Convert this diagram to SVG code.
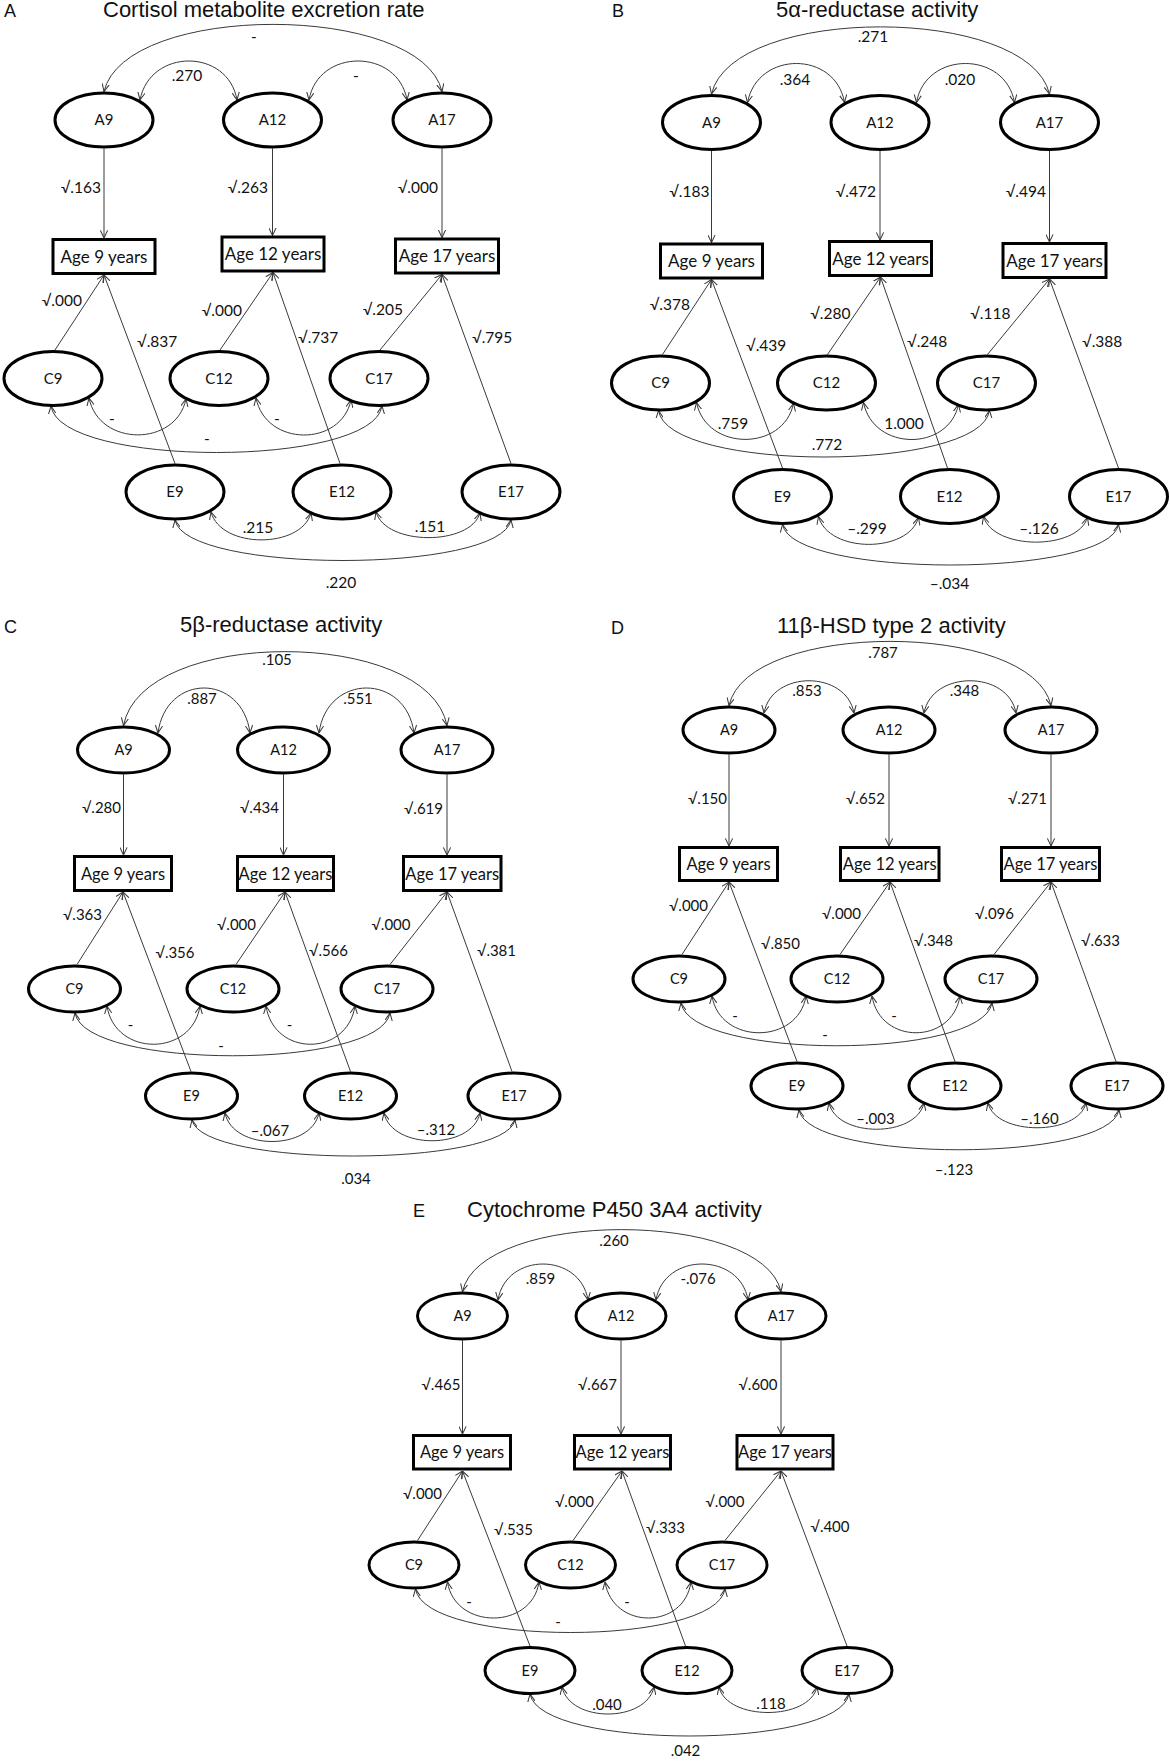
<svg xmlns="http://www.w3.org/2000/svg" width="1170" height="1763" viewBox="0 0 1170 1763">
<defs>
<style>
.ell{fill:#fff;stroke:#000;stroke-width:3}
.box{fill:#fff;stroke:#000;stroke-width:3}
.cn{fill:none;stroke:#3a3a3a;stroke-width:1}
.one{marker-end:url(#ah)}
.two{marker-start:url(#ah);marker-end:url(#ah)}
.nl{font-family:Lato,"Liberation Sans",sans-serif;font-size:15px;text-anchor:middle;fill:#111}
.bl{font-family:Lato,"Liberation Sans",sans-serif;font-size:17px;text-anchor:middle;fill:#111}
.lb{font-family:Lato,"Liberation Sans",sans-serif;font-size:15.5px;fill:#111}
.sm .nl{font-size:14.5px}
.sm .bl{font-size:16.5px}
.sm .lb{font-size:15px}
.m{text-anchor:middle}
.e{text-anchor:end}
.ttl{font-family:"Liberation Sans",Arial,sans-serif;font-size:22px;fill:#111}
.pl{font-family:"Liberation Sans",Arial,sans-serif;font-size:18px;fill:#111}
</style>
<marker id="ah" viewBox="0 0 10 10" refX="9.5" refY="5" markerWidth="8" markerHeight="8" markerUnits="userSpaceOnUse" orient="auto-start-reverse">
<path d="M0,0.5 L9.5,5 L0,9.5" fill="none" stroke="#3a3a3a" stroke-width="1.3"/>
</marker>
</defs>
<rect width="1170" height="1763" fill="#fff"/>

<!-- ================= PANEL A ================= -->
<g id="panel-A">
<text class="pl" x="4" y="17">A</text>
<text class="ttl" x="103" y="17">Cortisol metabolite excretion rate</text>
<g id="A-connectors">
<path class="cn one" d="M104,148.5 V238"/>
<path class="cn one" d="M272.5,148.5 V235.5"/>
<path class="cn one" d="M442,148.5 V237.5"/>
<path class="cn one" d="M55,350 L104,275"/>
<path class="cn one" d="M175,463.5 L104,275"/>
<path class="cn one" d="M220,350 L273,272.5"/>
<path class="cn one" d="M340,463.5 L273,272.5"/>
<path class="cn one" d="M380,350 L442,274.5"/>
<path class="cn one" d="M511,463.5 L442,274.5"/>
<path class="cn two" d="M104,91.5 C125,2 421,2 442,91.5"/>
<path class="cn two" d="M140,100 C150,48 228,48 237,100"/>
<path class="cn two" d="M309,100 C318,48 398,48 407,100"/>
<path class="cn two" d="M89,398 C99,447 176,447 186,399"/>
<path class="cn two" d="M256,398 C266,447 341,447 351,400"/>
<path class="cn two" d="M51,406 C60,468 373,468 382,406"/>
<path class="cn two" d="M211,512 C221,549 301,549 311,513"/>
<path class="cn two" d="M376,512 C386,546 470,546 480,513"/>
<path class="cn two" d="M175,520 C185,574 501,574 511,520"/>
</g>
<g id="A-labels">
<text class="lb m" x="254" y="41.5">-</text>
<text class="lb m" x="187" y="81">.270</text>
<text class="lb m" x="356" y="81">-</text>
<text class="lb e" x="101" y="193">√.163</text>
<text class="lb e" x="268" y="193">√.263</text>
<text class="lb e" x="438" y="193">√.000</text>
<text class="lb e" x="82" y="306">√.000</text>
<text class="lb" x="137" y="347">√.837</text>
<text class="lb e" x="242" y="316">√.000</text>
<text class="lb" x="298" y="343">√.737</text>
<text class="lb e" x="403" y="315">√.205</text>
<text class="lb" x="472" y="343">√.795</text>
<text class="lb m" x="112" y="424">-</text>
<text class="lb m" x="277" y="424">-</text>
<text class="lb m" x="207" y="444">-</text>
<text class="lb m" x="258" y="533">.215</text>
<text class="lb m" x="430" y="532">.151</text>
<text class="lb m" x="341" y="588">.220</text>
</g>
<g id="A-A9"><ellipse class="ell" cx="104" cy="120" rx="49" ry="27"/><text class="nl" x="104" y="125">A9</text></g>
<g id="A-A12"><ellipse class="ell" cx="272.5" cy="120" rx="49" ry="27"/><text class="nl" x="272.5" y="125">A12</text></g>
<g id="A-A17"><ellipse class="ell" cx="442" cy="120" rx="49" ry="27"/><text class="nl" x="442" y="125">A17</text></g>
<g id="A-Age9"><rect class="box" x="53" y="239.5" width="102" height="34"/><text class="bl" x="104" y="262.5">Age 9 years</text></g>
<g id="A-Age12"><rect class="box" x="222" y="237" width="102" height="34"/><text class="bl" x="273" y="260">Age 12 years</text></g>
<g id="A-Age17"><rect class="box" x="395.5" y="239" width="103" height="34"/><text class="bl" x="447" y="262">Age 17 years</text></g>
<g id="A-C9"><ellipse class="ell" cx="53" cy="378.5" rx="49" ry="27"/><text class="nl" x="53" y="383.5">C9</text></g>
<g id="A-C12"><ellipse class="ell" cx="219" cy="378.5" rx="49" ry="27"/><text class="nl" x="219" y="383.5">C12</text></g>
<g id="A-C17"><ellipse class="ell" cx="379" cy="378.5" rx="49" ry="27"/><text class="nl" x="379" y="383.5">C17</text></g>
<g id="A-E9"><ellipse class="ell" cx="175" cy="492" rx="49" ry="27"/><text class="nl" x="175" y="497">E9</text></g>
<g id="A-E12"><ellipse class="ell" cx="342" cy="492" rx="49" ry="27"/><text class="nl" x="342" y="497">E12</text></g>
<g id="A-E17"><ellipse class="ell" cx="511" cy="492" rx="49" ry="27"/><text class="nl" x="511" y="497">E17</text></g>
</g>

<!-- ================= PANEL B ================= -->
<g id="panel-B">
<text class="pl" x="612" y="17">B</text>
<text class="ttl" x="776" y="17">5α-reductase activity</text>
<g transform="translate(607.5,4.5)">
<g id="B-connectors">
<path class="cn one" d="M104,146.5 V238"/>
<path class="cn one" d="M272.5,146.5 V235.5"/>
<path class="cn one" d="M442,146.5 V237.5"/>
<path class="cn one" d="M55,350 L104,275"/>
<path class="cn one" d="M175,463.5 L104,275"/>
<path class="cn one" d="M220,350 L273,272.5"/>
<path class="cn one" d="M340,463.5 L273,272.5"/>
<path class="cn one" d="M380,350 L442,274.5"/>
<path class="cn one" d="M511,463.5 L442,274.5"/>
<path class="cn two" d="M104,89.5 C125,0 421,0 442,89.5"/>
<path class="cn two" d="M140,98 C150,46 228,46 237,98"/>
<path class="cn two" d="M309,98 C318,46 398,46 407,98"/>
<path class="cn two" d="M89,398 C99,447 176,447 186,399"/>
<path class="cn two" d="M256,398 C266,447 341,447 351,400"/>
<path class="cn two" d="M51,406 C60,468 373,468 382,406"/>
<path class="cn two" d="M211,512 C221,549 301,549 311,513"/>
<path class="cn two" d="M376,512 C386,546 470,546 480,513"/>
<path class="cn two" d="M175,520 C185,574 501,574 511,520"/>
</g>
<g id="B-labels">
<text class="lb m" x="265.5" y="37.5">.271</text>
<text class="lb m" x="187.5" y="80.5">.364</text>
<text class="lb m" x="352.5" y="80.5">.020</text>
<text class="lb e" x="102" y="192.5">√.183</text>
<text class="lb e" x="268.5" y="192.5">√.472</text>
<text class="lb e" x="438.5" y="192.5">√.494</text>
<text class="lb e" x="82.5" y="305.5">√.378</text>
<text class="lb" x="138.5" y="346.5">√.439</text>
<text class="lb e" x="243" y="314">√.280</text>
<text class="lb" x="299.5" y="342.5">√.248</text>
<text class="lb e" x="403" y="314.5">√.118</text>
<text class="lb" x="474.5" y="342.5">√.388</text>
<text class="lb m" x="125.5" y="424">.759</text>
<text class="lb m" x="296.5" y="424">1.000</text>
<text class="lb m" x="219.5" y="445">.772</text>
<text class="lb m" x="259.5" y="529.5">–.299</text>
<text class="lb m" x="431.5" y="529.5">–.126</text>
<text class="lb m" x="342" y="584.5">–.034</text>
</g>
<g id="B-A9"><ellipse class="ell" cx="104" cy="118" rx="49" ry="27"/><text class="nl" x="104" y="123">A9</text></g>
<g id="B-A12"><ellipse class="ell" cx="272.5" cy="118" rx="49" ry="27"/><text class="nl" x="272.5" y="123">A12</text></g>
<g id="B-A17"><ellipse class="ell" cx="442" cy="118" rx="49" ry="27"/><text class="nl" x="442" y="123">A17</text></g>
<g id="B-Age9"><rect class="box" x="53" y="239.5" width="102" height="34"/><text class="bl" x="104" y="262.5">Age 9 years</text></g>
<g id="B-Age12"><rect class="box" x="222" y="237" width="102" height="34"/><text class="bl" x="273" y="260">Age 12 years</text></g>
<g id="B-Age17"><rect class="box" x="395.5" y="239" width="103" height="34"/><text class="bl" x="447" y="262">Age 17 years</text></g>
<g id="B-C9"><ellipse class="ell" cx="53" cy="378.5" rx="49" ry="27"/><text class="nl" x="53" y="383.5">C9</text></g>
<g id="B-C12"><ellipse class="ell" cx="219" cy="378.5" rx="49" ry="27"/><text class="nl" x="219" y="383.5">C12</text></g>
<g id="B-C17"><ellipse class="ell" cx="379" cy="378.5" rx="49" ry="27"/><text class="nl" x="379" y="383.5">C17</text></g>
<g id="B-E9"><ellipse class="ell" cx="175" cy="492" rx="49" ry="27"/><text class="nl" x="175" y="497">E9</text></g>
<g id="B-E12"><ellipse class="ell" cx="342" cy="492" rx="49" ry="27"/><text class="nl" x="342" y="497">E12</text></g>
<g id="B-E17"><ellipse class="ell" cx="511" cy="492" rx="49" ry="27"/><text class="nl" x="511" y="497">E17</text></g>
</g>
</g>

<!-- ================= PANEL C ================= -->
<g id="panel-C" class="sm">
<text class="pl" x="4" y="633">C</text>
<text class="ttl" x="180" y="632">5β-reductase activity</text>
<g id="C-connectors">
<path class="cn one" d="M123.5,774.5 V855"/>
<path class="cn one" d="M283.5,774.5 V855"/>
<path class="cn one" d="M447,774.5 V855"/>
<path class="cn one" d="M77,964.5 L123,892"/>
<path class="cn one" d="M191,1071.5 L123,892"/>
<path class="cn one" d="M236,964.5 L285,892"/>
<path class="cn one" d="M350.5,1071.5 L285,892"/>
<path class="cn one" d="M390,964.5 L447,892"/>
<path class="cn one" d="M512,1071.5 L447,892"/>
<path class="cn two" d="M123.5,725.5 C142,627 428,627 447,725.5"/>
<path class="cn two" d="M158,733 C166,673 242,673 250,733"/>
<path class="cn two" d="M319,733 C327,673 406,673 414,733"/>
<path class="cn two" d="M107,1006 C115,1057 192,1057 200,1006"/>
<path class="cn two" d="M266,1006 C274,1057 347,1057 355,1006"/>
<path class="cn two" d="M75,1013 C85,1070 380,1070 390,1013"/>
<path class="cn two" d="M225,1113 C233,1151 311,1151 319,1113"/>
<path class="cn two" d="M384,1113 C392,1150 472,1150 480,1113"/>
<path class="cn two" d="M192,1120 C202,1168 505,1168 515,1120"/>
</g>
<g id="C-labels">
<text class="lb m" x="277" y="665">.105</text>
<text class="lb m" x="202" y="704">.887</text>
<text class="lb m" x="358" y="704">.551</text>
<text class="lb e" x="121" y="813">√.280</text>
<text class="lb e" x="279" y="813">√.434</text>
<text class="lb e" x="443" y="814">√.619</text>
<text class="lb e" x="102" y="920">√.363</text>
<text class="lb" x="155.5" y="958">√.356</text>
<text class="lb e" x="256" y="930">√.000</text>
<text class="lb" x="309" y="955.5">√.566</text>
<text class="lb e" x="410.5" y="930">√.000</text>
<text class="lb" x="477" y="955.5">√.381</text>
<text class="lb m" x="130.5" y="1030">-</text>
<text class="lb m" x="289.5" y="1030">-</text>
<text class="lb m" x="221" y="1051">-</text>
<text class="lb m" x="270" y="1136">–.067</text>
<text class="lb m" x="436" y="1135">–.312</text>
<text class="lb m" x="356" y="1184">.034</text>
</g>
<g id="C-A9"><ellipse class="ell" cx="123.5" cy="750" rx="46" ry="23"/><text class="nl" x="123.5" y="755">A9</text></g>
<g id="C-A12"><ellipse class="ell" cx="283.5" cy="750" rx="46" ry="23"/><text class="nl" x="283.5" y="755">A12</text></g>
<g id="C-A17"><ellipse class="ell" cx="447" cy="750" rx="46" ry="23"/><text class="nl" x="447" y="755">A17</text></g>
<g id="C-Age9"><rect class="box" x="74.5" y="856.5" width="97" height="34"/><text class="bl" x="123" y="879.5">Age 9 years</text></g>
<g id="C-Age12"><rect class="box" x="237.5" y="856.5" width="96" height="34"/><text class="bl" x="285.5" y="879.5">Age 12 years</text></g>
<g id="C-Age17"><rect class="box" x="403.5" y="856.5" width="97.5" height="34"/><text class="bl" x="452.25" y="879.5">Age 17 years</text></g>
<g id="C-C9"><ellipse class="ell" cx="74.5" cy="989" rx="46" ry="23"/><text class="nl" x="74.5" y="994">C9</text></g>
<g id="C-C12"><ellipse class="ell" cx="233" cy="989" rx="46" ry="23"/><text class="nl" x="233" y="994">C12</text></g>
<g id="C-C17"><ellipse class="ell" cx="387" cy="989" rx="46" ry="23"/><text class="nl" x="387" y="994">C17</text></g>
<g id="C-E9"><ellipse class="ell" cx="191.5" cy="1096" rx="46" ry="23"/><text class="nl" x="191.5" y="1101">E9</text></g>
<g id="C-E12"><ellipse class="ell" cx="350.5" cy="1096" rx="46" ry="23"/><text class="nl" x="350.5" y="1101">E12</text></g>
<g id="C-E17"><ellipse class="ell" cx="514" cy="1096" rx="46" ry="23"/><text class="nl" x="514" y="1101">E17</text></g>
</g>

<!-- ================= PANEL D ================= -->
<g id="panel-D" class="sm">
<text class="pl" x="611" y="634">D</text>
<text class="ttl" x="777" y="633">11β-HSD type 2 activity</text>
<g id="D-connectors">
<path class="cn one" d="M729,754.5 V846"/>
<path class="cn one" d="M889,754.5 V846"/>
<path class="cn one" d="M1051,754.5 V846"/>
<path class="cn one" d="M682,954.5 L729,882"/>
<path class="cn one" d="M797,1061.5 L729,882"/>
<path class="cn one" d="M840,954.5 L890,882"/>
<path class="cn one" d="M955,1061.5 L890,882"/>
<path class="cn one" d="M994,954.5 L1051,882"/>
<path class="cn one" d="M1116,1061.5 L1051,882"/>
<path class="cn two" d="M729,705.5 C748,620 1032,620 1051,705.5"/>
<path class="cn two" d="M764,713 C772,670 846,670 854,713"/>
<path class="cn two" d="M924,713 C932,670 1008,670 1016,713"/>
<path class="cn two" d="M712,996 C720,1045 798,1045 806,996"/>
<path class="cn two" d="M872,996 C880,1045 952,1045 960,996"/>
<path class="cn two" d="M681,1003 C691,1060 982,1060 992,1003"/>
<path class="cn two" d="M829,1103 C837,1138 916,1138 924,1103"/>
<path class="cn two" d="M988,1103 C996,1136 1078,1136 1086,1103"/>
<path class="cn two" d="M799,1110 C809,1163 1109,1163 1119,1110"/>
</g>
<g id="D-labels">
<text class="lb m" x="883" y="658">.787</text>
<text class="lb m" x="807" y="696">.853</text>
<text class="lb m" x="964.5" y="696">.348</text>
<text class="lb e" x="727" y="804">√.150</text>
<text class="lb e" x="885" y="804">√.652</text>
<text class="lb e" x="1047" y="804">√.271</text>
<text class="lb e" x="708" y="911">√.000</text>
<text class="lb" x="761" y="949">√.850</text>
<text class="lb e" x="861" y="919">√.000</text>
<text class="lb" x="914" y="946">√.348</text>
<text class="lb e" x="1014" y="919">√.096</text>
<text class="lb" x="1081" y="946">√.633</text>
<text class="lb m" x="735" y="1021">-</text>
<text class="lb m" x="894" y="1021">-</text>
<text class="lb m" x="825" y="1040">-</text>
<text class="lb m" x="875.5" y="1124">–.003</text>
<text class="lb m" x="1039.5" y="1123.5">–.160</text>
<text class="lb m" x="954" y="1175">–.123</text>
</g>
<g id="D-A9"><ellipse class="ell" cx="729" cy="730" rx="46" ry="23"/><text class="nl" x="729" y="735">A9</text></g>
<g id="D-A12"><ellipse class="ell" cx="889" cy="730" rx="46" ry="23"/><text class="nl" x="889" y="735">A12</text></g>
<g id="D-A17"><ellipse class="ell" cx="1051" cy="730" rx="46" ry="23"/><text class="nl" x="1051" y="735">A17</text></g>
<g id="D-Age9"><rect class="box" x="679.5" y="847.5" width="98" height="33"/><text class="bl" x="728.5" y="870">Age 9 years</text></g>
<g id="D-Age12"><rect class="box" x="840.5" y="847.5" width="98.5" height="33"/><text class="bl" x="889.75" y="870">Age 12 years</text></g>
<g id="D-Age17"><rect class="box" x="1001.5" y="847.5" width="98" height="33"/><text class="bl" x="1050.5" y="870">Age 17 years</text></g>
<g id="D-C9"><ellipse class="ell" cx="679" cy="979" rx="46" ry="23"/><text class="nl" x="679" y="984">C9</text></g>
<g id="D-C12"><ellipse class="ell" cx="837" cy="979" rx="46" ry="23"/><text class="nl" x="837" y="984">C12</text></g>
<g id="D-C17"><ellipse class="ell" cx="991" cy="979" rx="46" ry="23"/><text class="nl" x="991" y="984">C17</text></g>
<g id="D-E9"><ellipse class="ell" cx="797" cy="1086" rx="46" ry="23"/><text class="nl" x="797" y="1091">E9</text></g>
<g id="D-E12"><ellipse class="ell" cx="955" cy="1086" rx="46" ry="23"/><text class="nl" x="955" y="1091">E12</text></g>
<g id="D-E17"><ellipse class="ell" cx="1117" cy="1086" rx="46" ry="23"/><text class="nl" x="1117" y="1091">E17</text></g>
</g>

<!-- ================= PANEL E ================= -->
<g id="panel-E" class="sm">
<text class="pl" x="413" y="1217">E</text>
<text class="ttl" x="467" y="1217">Cytochrome P450 3A4 activity</text>
<g id="E-connectors">
<path class="cn one" d="M462.5,1340.5 V1434"/>
<path class="cn one" d="M621,1340.5 V1434"/>
<path class="cn one" d="M781,1340.5 V1434"/>
<path class="cn one" d="M417.5,1540.5 L462.5,1471"/>
<path class="cn one" d="M530,1646 L462.5,1471"/>
<path class="cn one" d="M573,1540.5 L622,1471"/>
<path class="cn one" d="M685.5,1646 L622,1471"/>
<path class="cn one" d="M725,1540.5 L781,1471"/>
<path class="cn one" d="M847,1646 L781,1471"/>
<path class="cn two" d="M462.5,1291.5 C481,1209 762,1209 781,1291.5"/>
<path class="cn two" d="M498,1300 C506,1252 580,1252 588,1300"/>
<path class="cn two" d="M656,1300 C664,1252 740,1252 748,1300"/>
<path class="cn two" d="M447.5,1582 C455,1630 532,1630 539,1582"/>
<path class="cn two" d="M605,1582 C613,1630 684,1630 691,1582"/>
<path class="cn two" d="M415.5,1589 C425,1647 716,1647 725,1589"/>
<path class="cn two" d="M562,1687 C570,1723 646,1723 654,1687"/>
<path class="cn two" d="M719,1687 C727,1721 809,1721 817,1687"/>
<path class="cn two" d="M530,1694 C540,1750 839,1750 849,1694"/>
</g>
<g id="E-labels">
<text class="lb m" x="614" y="1246">.260</text>
<text class="lb m" x="540.5" y="1284">.859</text>
<text class="lb m" x="698" y="1284">-.076</text>
<text class="lb e" x="460.5" y="1390">√.465</text>
<text class="lb e" x="617" y="1390">√.667</text>
<text class="lb e" x="777.5" y="1390">√.600</text>
<text class="lb e" x="442" y="1499">√.000</text>
<text class="lb" x="494" y="1535">√.535</text>
<text class="lb e" x="594" y="1507">√.000</text>
<text class="lb" x="646" y="1533">√.333</text>
<text class="lb e" x="744.5" y="1507">√.000</text>
<text class="lb" x="810.5" y="1532">√.400</text>
<text class="lb m" x="469" y="1607">-</text>
<text class="lb m" x="627" y="1607">-</text>
<text class="lb m" x="558" y="1627">-</text>
<text class="lb m" x="607" y="1710">.040</text>
<text class="lb m" x="771" y="1709">.118</text>
<text class="lb m" x="685.5" y="1756">.042</text>
</g>
<g id="E-A9"><ellipse class="ell" cx="462.5" cy="1316" rx="45" ry="23"/><text class="nl" x="462.5" y="1321">A9</text></g>
<g id="E-A12"><ellipse class="ell" cx="621" cy="1316" rx="45" ry="23"/><text class="nl" x="621" y="1321">A12</text></g>
<g id="E-A17"><ellipse class="ell" cx="781" cy="1316" rx="45" ry="23"/><text class="nl" x="781" y="1321">A17</text></g>
<g id="E-Age9"><rect class="box" x="413.5" y="1435.5" width="97" height="33.5"/><text class="bl" x="462" y="1458">Age 9 years</text></g>
<g id="E-Age12"><rect class="box" x="574.5" y="1435.5" width="96" height="33.5"/><text class="bl" x="622.5" y="1458">Age 12 years</text></g>
<g id="E-Age17"><rect class="box" x="737" y="1435.5" width="96" height="33.5"/><text class="bl" x="785" y="1458">Age 17 years</text></g>
<g id="E-C9"><ellipse class="ell" cx="414" cy="1565" rx="45" ry="23"/><text class="nl" x="414" y="1570">C9</text></g>
<g id="E-C12"><ellipse class="ell" cx="570.5" cy="1565" rx="45" ry="23"/><text class="nl" x="570.5" y="1570">C12</text></g>
<g id="E-C17"><ellipse class="ell" cx="722" cy="1565" rx="45" ry="23"/><text class="nl" x="722" y="1570">C17</text></g>
<g id="E-E9"><ellipse class="ell" cx="530" cy="1670.5" rx="45" ry="23"/><text class="nl" x="530" y="1675.5">E9</text></g>
<g id="E-E12"><ellipse class="ell" cx="687" cy="1670.5" rx="45" ry="23"/><text class="nl" x="687" y="1675.5">E12</text></g>
<g id="E-E17"><ellipse class="ell" cx="847" cy="1670.5" rx="45" ry="23"/><text class="nl" x="847" y="1675.5">E17</text></g>
</g>
</svg>
